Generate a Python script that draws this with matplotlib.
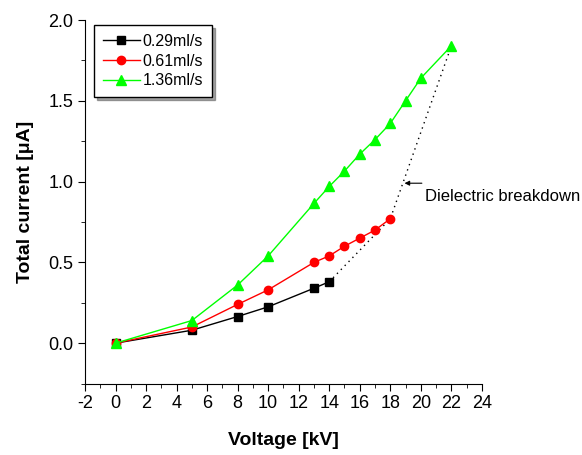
import matplotlib
matplotlib.use("Agg")
import matplotlib.pyplot as plt

plt.rcParams["font.family"] = ["Liberation Sans", "DejaVu Sans"]
plt.rcParams["axes.unicode_minus"] = False

voltage_029 = [0, 5, 8, 10, 13, 14]
current_029 = [0.0, 0.08, 0.165, 0.225, 0.34, 0.38]

voltage_061 = [0, 5, 8, 10, 13, 14, 15, 16, 17, 18]
current_061 = [0.0, 0.10, 0.24, 0.33, 0.50, 0.54, 0.60, 0.65, 0.70, 0.77]

voltage_136 = [0, 5, 8, 10, 13, 14, 15, 16, 17, 18, 19, 20, 22]
current_136 = [0.0, 0.14, 0.36, 0.54, 0.865, 0.97, 1.065, 1.17, 1.26, 1.36, 1.50, 1.64, 1.84]

breakdown_v = [14, 18, 22]
breakdown_i = [0.38, 0.77, 1.84]

fig = plt.figure(figsize=(5.82, 4.55), dpi=100)
ax = fig.add_axes([0.146, 0.157, 0.682, 0.799])

ax.plot(breakdown_v, breakdown_i, color="black", linestyle=(0, (1, 3)), linewidth=1)
ax.plot(voltage_029, current_029, color="black", marker="s", markersize=5.5, linewidth=1, label="0.29ml/s")
ax.plot(voltage_061, current_061, color="red", marker="o", markersize=6, linewidth=1, label="0.61ml/s")
ax.plot(voltage_136, current_136, color="#00ff00", marker="^", markersize=7, linewidth=1, label="1.36ml/s")

ax.annotate("", xy=(18.75, 0.99), xytext=(20.25, 0.99),
            arrowprops=dict(arrowstyle="-|>", color="black", lw=0.8, mutation_scale=7))
ax.text(20.3, 0.91, "Dielectric breakdown", fontsize=12, va="center", ha="left", clip_on=False)

ax.set_xlim(-2, 24)
ax.set_ylim(-0.25, 2.0)
ax.set_xticks(range(-2, 25, 2))
ax.set_xticks(range(-2, 25, 1), minor=True)
ax.set_yticks([0.0, 0.5, 1.0, 1.5, 2.0])
ax.set_yticklabels(["0.0", "0.5", "1.0", "1.5", "2.0"])
ax.set_yticks([-0.25, 0.25, 0.75, 1.25, 1.75], minor=True)
ax.tick_params(axis="both", which="major", direction="out", length=5, labelsize=13)
ax.tick_params(axis="both", which="minor", direction="out", length=3)
for side in ["top", "right"]:
    ax.spines[side].set_visible(False)

ax.set_xlabel("Voltage [kV]", fontsize=14, fontweight="bold", labelpad=14)
ax.set_ylabel("Total current [\u03bcA]", fontsize=14, fontweight="bold", labelpad=10)

leg = ax.legend(loc="upper left", bbox_to_anchor=(0.015, 0.995), fontsize=11.5, frameon=True,
                fancybox=False, shadow=True, handlelength=2.3, borderpad=0.55,
                labelspacing=0.3, handletextpad=0.2, borderaxespad=0.2)
leg.get_frame().set_edgecolor("black")
leg.get_frame().set_linewidth(1)

fig.savefig("out.png", dpi=100)
